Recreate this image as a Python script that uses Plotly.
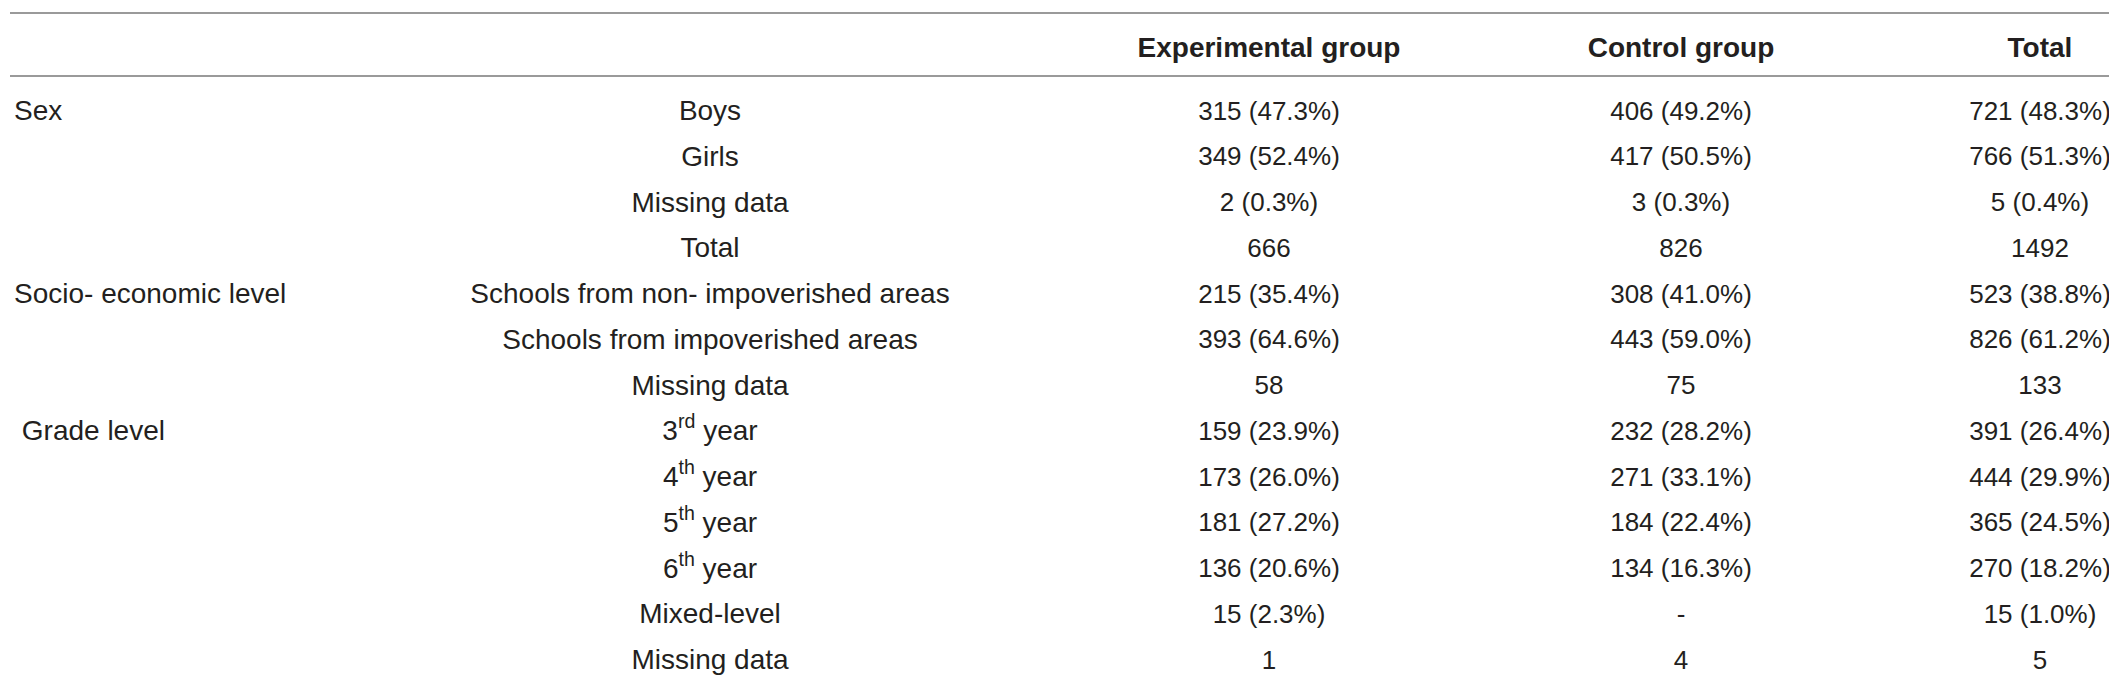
import plotly.graph_objects as go

# Table content
headers = ["", "", "Experimental group", "Control group", "Total"]

variables = ["Sex", "", "", "", "Socio- economic level", "", "",
             " Grade level", "", "", "", "", ""]

subgroups = ["Boys", "Girls", "Missing data", "Total",
             "Schools from non- impoverished areas",
             "Schools from impoverished areas", "Missing data",
             "3<sup>rd</sup> year", "4<sup>th</sup> year", "5<sup>th</sup> year",
             "6<sup>th</sup> year", "Mixed-level", "Missing data"]

experimental = ["315 (47.3%)", "349 (52.4%)", "2 (0.3%)", "666",
                "215 (35.4%)", "393 (64.6%)", "58",
                "159 (23.9%)", "173 (26.0%)", "181 (27.2%)", "136 (20.6%)",
                "15 (2.3%)", "1"]

control = ["406 (49.2%)", "417 (50.5%)", "3 (0.3%)", "826",
           "308 (41.0%)", "443 (59.0%)", "75",
           "232 (28.2%)", "271 (33.1%)", "184 (22.4%)", "134 (16.3%)",
           "-", "4"]

total = ["721 (48.3%)", "766 (51.3%)", "5 (0.4%)", "1492",
         "523 (38.8%)", "826 (61.2%)", "133",
         "391 (26.4%)", "444 (29.9%)", "365 (24.5%)", "270 (18.2%)",
         "15 (1.0%)", "5"]

W, H = 2117, 692
text_color = "#231f20"
rule_color = "#9a9a9a"
font_family = "Liberation Sans, Arial, sans-serif"

# layout of the table (pixel units)
col_x = [6, 702, 1261, 1673, 2032]
col_size = [28, 28, 26, 26, 26]
header_y = 42
row_y = [105 + 45.75 * i for i in range(len(subgroups))]

fig = go.Figure()

columns = [variables, subgroups, experimental, control, total]
positions = ["middle right", "middle center", "middle center", "middle center", "middle center"]

for x, col, pos, size in zip(col_x, columns, positions, col_size):
    fig.add_trace(go.Scatter(x=[x] * len(col), y=row_y, text=col,
                             mode="text", textposition=pos,
                             textfont=dict(family=font_family, size=size, color=text_color),
                             hoverinfo="skip", showlegend=False))

# header row
fig.add_trace(go.Scatter(x=col_x[2:], y=[header_y] * 3,
                         text=["<b>%s</b>" % h for h in headers[2:]],
                         mode="text", textposition="middle center",
                         textfont=dict(family=font_family, size=28, color=text_color),
                         hoverinfo="skip", showlegend=False))

# horizontal rules
for y in [5, 68, 686]:
    fig.add_shape(type="line", x0=2, x1=2113, y0=y, y1=y,
                  line=dict(color=rule_color, width=2))

fig.update_layout(width=W, height=H,
                  margin=dict(l=0, r=0, t=0, b=0),
                  paper_bgcolor="white", plot_bgcolor="white",
                  xaxis=dict(range=[0, W], visible=False, fixedrange=True),
                  yaxis=dict(range=[H, 0], visible=False, fixedrange=True))

fig.write_html("out.html")
